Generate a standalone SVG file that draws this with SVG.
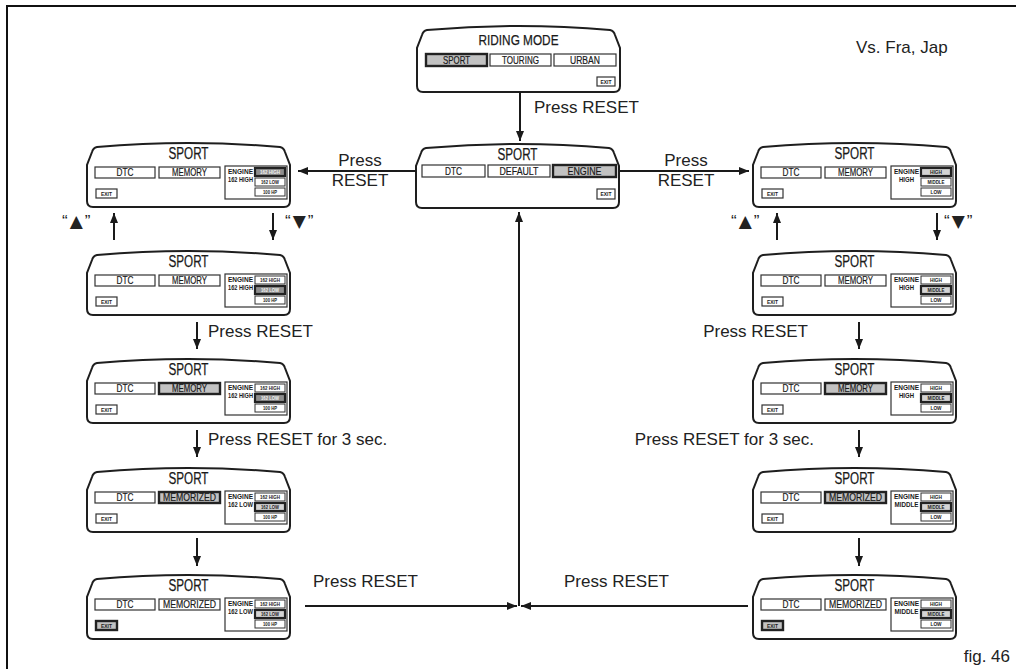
<svg xmlns="http://www.w3.org/2000/svg" xmlns:xlink="http://www.w3.org/1999/xlink" width="1016" height="669" viewBox="0 0 1016 669">
<style>
.scr{fill:#fff;stroke:#1e1e1e;stroke-width:2}
.btn{fill:#fff;stroke:#333;stroke-width:1.2}
.sel{fill:#c2c2c2;stroke:#222;stroke-width:2.4}
.eng{fill:#fff;stroke:#333;stroke-width:1.2}
.val{fill:#fff;stroke:#333;stroke-width:1}
.vd{fill:#8e8e8e;stroke:#222;stroke-width:2.2}
.vl{fill:#d4d4d4;stroke:#222;stroke-width:2.2}
.t{font-family:"Liberation Sans",Arial,"DejaVu Sans",sans-serif;fill:#1a1a1a;stroke:#1a1a1a;stroke-width:0.2}
.ti{font-size:16px;text-anchor:middle;stroke-width:0.25}
.b{font-size:10.5px;text-anchor:middle}
.e{font-size:7.5px;font-weight:bold;stroke-width:0}
.s{font-size:6px;font-weight:bold;text-anchor:middle;stroke-width:0}
.w{fill:#f4f4f4}
.lbl{font-family:"Liberation Sans",Arial,"DejaVu Sans",sans-serif;font-size:17px;fill:#222}
.tri{font-family:"DejaVu Sans",sans-serif;font-size:17px}
.c{stroke:#1a1a1a;stroke-width:2;fill:none}
.frame{stroke:#111;stroke-width:2;fill:none}
</style>
<defs>
<path id="shape" class="scr" d="M10,4 Q101.5,-4 193,4 Q197,5 198,9 L203,22 L203,58 Q203,64 197,64 L6,64 Q0,64 0,58 L0,22 L5,9 Q6,5 10,4 Z"/>
<path id="shape-tall" class="scr" d="M10,4 Q101.5,-4 193,4 Q197,5 198,9 L203,22 L203,60 Q203,66 197,66 L6,66 Q0,66 0,60 L0,22 L5,9 Q6,5 10,4 Z"/>
<marker id="ah" viewBox="0 0 10 8" refX="10" refY="4" markerWidth="10" markerHeight="8" markerUnits="userSpaceOnUse" orient="auto"><path d="M0,0 L10,4 L0,8 Z" fill="#1a1a1a"/></marker>
</defs>
<rect width="1016" height="669" fill="#fff"/>
<path class="frame" d="M7,669 L7,6 L1016,6"/>

<g id="riding-mode" transform="translate(417,26)">
<use xlink:href="#shape-tall"/>
<text class="t ti" x="101.5" y="19" textLength="80" lengthAdjust="spacingAndGlyphs" style="font-size:14px">RIDING MODE</text>
<rect class="sel" x="9" y="28" width="61" height="12"/><text class="t b" x="39.5" y="37.8" textLength="27" lengthAdjust="spacingAndGlyphs">SPORT</text>
<rect class="btn" x="73" y="28" width="61" height="12"/><text class="t b" x="103.5" y="37.8" textLength="37" lengthAdjust="spacingAndGlyphs">TOURING</text>
<rect class="btn" x="137" y="28" width="62" height="12"/><text class="t b" x="168" y="37.8" textLength="30" lengthAdjust="spacingAndGlyphs">URBAN</text>
<rect class="btn" x="180" y="51" width="18" height="9"/><text class="t s" x="189" y="57.8" textLength="11" lengthAdjust="spacingAndGlyphs">EXIT</text>
</g>

<g id="sport-main" transform="translate(416,144)">
<use xlink:href="#shape"/>
<text class="t ti" x="101.5" y="15.5" textLength="40" lengthAdjust="spacingAndGlyphs">SPORT</text>
<rect class="btn" x="6" y="21" width="63" height="12"/><text class="t b" x="37.5" y="30.8" textLength="17" lengthAdjust="spacingAndGlyphs">DTC</text>
<rect class="btn" x="72" y="21" width="62" height="12"/><text class="t b" x="103" y="30.8" textLength="39" lengthAdjust="spacingAndGlyphs">DEFAULT</text>
<rect class="sel" x="137" y="21" width="63" height="12"/><text class="t b" x="168.5" y="30.8" textLength="34" lengthAdjust="spacingAndGlyphs">ENGINE</text>
<rect class="btn" x="181" y="45" width="18" height="10"/><text class="t s" x="190" y="52.3" textLength="11" lengthAdjust="spacingAndGlyphs">EXIT</text>
</g>

<!-- LEFT COLUMN -->
<g id="left-1" transform="translate(87,143)">
<use xlink:href="#shape"/>
<text class="t ti" x="101.5" y="15.5" textLength="40" lengthAdjust="spacingAndGlyphs">SPORT</text>
<rect class="btn" x="8" y="24" width="60" height="11"/><text class="t b" x="38" y="33.3" textLength="17" lengthAdjust="spacingAndGlyphs">DTC</text>
<rect class="btn" x="72" y="24" width="61" height="11"/><text class="t b" x="102.5" y="33.3" textLength="35" lengthAdjust="spacingAndGlyphs">MEMORY</text>
<rect class="eng" x="138" y="23" width="62" height="33"/>
<text class="t e" x="141" y="31" textLength="25" lengthAdjust="spacingAndGlyphs">ENGINE</text>
<text class="t e" x="141" y="39" textLength="25" lengthAdjust="spacingAndGlyphs">162 HIGH</text>
<rect class="vd" x="168" y="25" width="30" height="8"/><text class="t s w" x="183" y="31.2" textLength="20" lengthAdjust="spacingAndGlyphs">162 HIGH</text>
<rect class="val" x="168" y="35" width="30" height="8"/><text class="t s" x="183" y="41.2" textLength="18" lengthAdjust="spacingAndGlyphs">162 LOW</text>
<rect class="val" x="168" y="45" width="30" height="8"/><text class="t s" x="183" y="51.2" textLength="14" lengthAdjust="spacingAndGlyphs">100 HP</text>
<rect class="btn" x="9" y="46" width="21" height="9"/><text class="t s" x="19.5" y="52.8" textLength="11" lengthAdjust="spacingAndGlyphs">EXIT</text>
</g>

<g id="left-2" transform="translate(87,251)">
<use xlink:href="#shape"/>
<text class="t ti" x="101.5" y="15.5" textLength="40" lengthAdjust="spacingAndGlyphs">SPORT</text>
<rect class="btn" x="8" y="24" width="60" height="11"/><text class="t b" x="38" y="33.3" textLength="17" lengthAdjust="spacingAndGlyphs">DTC</text>
<rect class="btn" x="72" y="24" width="61" height="11"/><text class="t b" x="102.5" y="33.3" textLength="35" lengthAdjust="spacingAndGlyphs">MEMORY</text>
<rect class="eng" x="138" y="23" width="62" height="33"/>
<text class="t e" x="141" y="31" textLength="25" lengthAdjust="spacingAndGlyphs">ENGINE</text>
<text class="t e" x="141" y="39" textLength="25" lengthAdjust="spacingAndGlyphs">162 HIGH</text>
<rect class="val" x="168" y="25" width="30" height="8"/><text class="t s" x="183" y="31.2" textLength="20" lengthAdjust="spacingAndGlyphs">162 HIGH</text>
<rect class="vd" x="168" y="35" width="30" height="8"/><text class="t s w" x="183" y="41.2" textLength="18" lengthAdjust="spacingAndGlyphs">162 LOW</text>
<rect class="val" x="168" y="45" width="30" height="8"/><text class="t s" x="183" y="51.2" textLength="14" lengthAdjust="spacingAndGlyphs">100 HP</text>
<rect class="btn" x="9" y="46" width="21" height="9"/><text class="t s" x="19.5" y="52.8" textLength="11" lengthAdjust="spacingAndGlyphs">EXIT</text>
</g>

<g id="left-3" transform="translate(87,359)">
<use xlink:href="#shape"/>
<text class="t ti" x="101.5" y="15.5" textLength="40" lengthAdjust="spacingAndGlyphs">SPORT</text>
<rect class="btn" x="8" y="24" width="60" height="11"/><text class="t b" x="38" y="33.3" textLength="17" lengthAdjust="spacingAndGlyphs">DTC</text>
<rect class="sel" x="72" y="24" width="61" height="11"/><text class="t b" x="102.5" y="33.3" textLength="35" lengthAdjust="spacingAndGlyphs">MEMORY</text>
<rect class="eng" x="138" y="23" width="62" height="33"/>
<text class="t e" x="141" y="31" textLength="25" lengthAdjust="spacingAndGlyphs">ENGINE</text>
<text class="t e" x="141" y="39" textLength="25" lengthAdjust="spacingAndGlyphs">162 HIGH</text>
<rect class="val" x="168" y="25" width="30" height="8"/><text class="t s" x="183" y="31.2" textLength="20" lengthAdjust="spacingAndGlyphs">162 HIGH</text>
<rect class="vd" x="168" y="35" width="30" height="8"/><text class="t s w" x="183" y="41.2" textLength="18" lengthAdjust="spacingAndGlyphs">162 LOW</text>
<rect class="val" x="168" y="45" width="30" height="8"/><text class="t s" x="183" y="51.2" textLength="14" lengthAdjust="spacingAndGlyphs">100 HP</text>
<rect class="btn" x="9" y="46" width="21" height="9"/><text class="t s" x="19.5" y="52.8" textLength="11" lengthAdjust="spacingAndGlyphs">EXIT</text>
</g>

<g id="left-4" transform="translate(87,468)">
<use xlink:href="#shape"/>
<text class="t ti" x="101.5" y="15.5" textLength="40" lengthAdjust="spacingAndGlyphs">SPORT</text>
<rect class="btn" x="8" y="24" width="60" height="11"/><text class="t b" x="38" y="33.3" textLength="17" lengthAdjust="spacingAndGlyphs">DTC</text>
<rect class="sel" x="72" y="24" width="61" height="11"/><text class="t b" x="102.5" y="33.3" textLength="53" lengthAdjust="spacingAndGlyphs">MEMORIZED</text>
<rect class="eng" x="138" y="23" width="62" height="33"/>
<text class="t e" x="141" y="31" textLength="25" lengthAdjust="spacingAndGlyphs">ENGINE</text>
<text class="t e" x="141" y="39" textLength="25" lengthAdjust="spacingAndGlyphs">162 LOW</text>
<rect class="val" x="168" y="25" width="30" height="8"/><text class="t s" x="183" y="31.2" textLength="20" lengthAdjust="spacingAndGlyphs">162 HIGH</text>
<rect class="vl" x="168" y="35" width="30" height="8"/><text class="t s" x="183" y="41.2" textLength="18" lengthAdjust="spacingAndGlyphs">162 LOW</text>
<rect class="val" x="168" y="45" width="30" height="8"/><text class="t s" x="183" y="51.2" textLength="14" lengthAdjust="spacingAndGlyphs">100 HP</text>
<rect class="btn" x="9" y="46" width="21" height="9"/><text class="t s" x="19.5" y="52.8" textLength="11" lengthAdjust="spacingAndGlyphs">EXIT</text>
</g>

<g id="left-5" transform="translate(87,575)">
<use xlink:href="#shape"/>
<text class="t ti" x="101.5" y="15.5" textLength="40" lengthAdjust="spacingAndGlyphs">SPORT</text>
<rect class="btn" x="8" y="24" width="60" height="11"/><text class="t b" x="38" y="33.3" textLength="17" lengthAdjust="spacingAndGlyphs">DTC</text>
<rect class="btn" x="72" y="24" width="61" height="11"/><text class="t b" x="102.5" y="33.3" textLength="53" lengthAdjust="spacingAndGlyphs">MEMORIZED</text>
<rect class="eng" x="138" y="23" width="62" height="33"/>
<text class="t e" x="141" y="31" textLength="25" lengthAdjust="spacingAndGlyphs">ENGINE</text>
<text class="t e" x="141" y="39" textLength="25" lengthAdjust="spacingAndGlyphs">162 LOW</text>
<rect class="val" x="168" y="25" width="30" height="8"/><text class="t s" x="183" y="31.2" textLength="20" lengthAdjust="spacingAndGlyphs">162 HIGH</text>
<rect class="vl" x="168" y="35" width="30" height="8"/><text class="t s" x="183" y="41.2" textLength="18" lengthAdjust="spacingAndGlyphs">162 LOW</text>
<rect class="val" x="168" y="45" width="30" height="8"/><text class="t s" x="183" y="51.2" textLength="14" lengthAdjust="spacingAndGlyphs">100 HP</text>
<rect class="sel" x="9" y="46" width="21" height="9"/><text class="t s" x="19.5" y="52.8" textLength="11" lengthAdjust="spacingAndGlyphs">EXIT</text>
</g>

<!-- RIGHT COLUMN -->
<g id="right-1" transform="translate(753,143)">
<use xlink:href="#shape"/>
<text class="t ti" x="101.5" y="15.5" textLength="40" lengthAdjust="spacingAndGlyphs">SPORT</text>
<rect class="btn" x="8" y="24" width="60" height="11"/><text class="t b" x="38" y="33.3" textLength="17" lengthAdjust="spacingAndGlyphs">DTC</text>
<rect class="btn" x="72" y="24" width="61" height="11"/><text class="t b" x="102.5" y="33.3" textLength="35" lengthAdjust="spacingAndGlyphs">MEMORY</text>
<rect class="eng" x="138" y="23" width="62" height="33"/>
<text class="t e" x="153.5" y="31" text-anchor="middle" textLength="25" lengthAdjust="spacingAndGlyphs">ENGINE</text>
<text class="t e" x="153.5" y="39" text-anchor="middle" textLength="15" lengthAdjust="spacingAndGlyphs">HIGH</text>
<rect class="vl" x="168" y="25" width="30" height="8"/><text class="t s" x="183" y="31.2" textLength="12" lengthAdjust="spacingAndGlyphs">HIGH</text>
<rect class="val" x="168" y="35" width="30" height="8"/><text class="t s" x="183" y="41.2" textLength="17" lengthAdjust="spacingAndGlyphs">MIDDLE</text>
<rect class="val" x="168" y="45" width="30" height="8"/><text class="t s" x="183" y="51.2" textLength="11" lengthAdjust="spacingAndGlyphs">LOW</text>
<rect class="btn" x="9" y="46" width="21" height="9"/><text class="t s" x="19.5" y="52.8" textLength="11" lengthAdjust="spacingAndGlyphs">EXIT</text>
</g>

<g id="right-2" transform="translate(753,251)">
<use xlink:href="#shape"/>
<text class="t ti" x="101.5" y="15.5" textLength="40" lengthAdjust="spacingAndGlyphs">SPORT</text>
<rect class="btn" x="8" y="24" width="60" height="11"/><text class="t b" x="38" y="33.3" textLength="17" lengthAdjust="spacingAndGlyphs">DTC</text>
<rect class="btn" x="72" y="24" width="61" height="11"/><text class="t b" x="102.5" y="33.3" textLength="35" lengthAdjust="spacingAndGlyphs">MEMORY</text>
<rect class="eng" x="138" y="23" width="62" height="33"/>
<text class="t e" x="153.5" y="31" text-anchor="middle" textLength="25" lengthAdjust="spacingAndGlyphs">ENGINE</text>
<text class="t e" x="153.5" y="39" text-anchor="middle" textLength="15" lengthAdjust="spacingAndGlyphs">HIGH</text>
<rect class="val" x="168" y="25" width="30" height="8"/><text class="t s" x="183" y="31.2" textLength="12" lengthAdjust="spacingAndGlyphs">HIGH</text>
<rect class="vl" x="168" y="35" width="30" height="8"/><text class="t s" x="183" y="41.2" textLength="17" lengthAdjust="spacingAndGlyphs">MIDDLE</text>
<rect class="val" x="168" y="45" width="30" height="8"/><text class="t s" x="183" y="51.2" textLength="11" lengthAdjust="spacingAndGlyphs">LOW</text>
<rect class="btn" x="9" y="46" width="21" height="9"/><text class="t s" x="19.5" y="52.8" textLength="11" lengthAdjust="spacingAndGlyphs">EXIT</text>
</g>

<g id="right-3" transform="translate(753,359)">
<use xlink:href="#shape"/>
<text class="t ti" x="101.5" y="15.5" textLength="40" lengthAdjust="spacingAndGlyphs">SPORT</text>
<rect class="btn" x="8" y="24" width="60" height="11"/><text class="t b" x="38" y="33.3" textLength="17" lengthAdjust="spacingAndGlyphs">DTC</text>
<rect class="sel" x="72" y="24" width="61" height="11"/><text class="t b" x="102.5" y="33.3" textLength="35" lengthAdjust="spacingAndGlyphs">MEMORY</text>
<rect class="eng" x="138" y="23" width="62" height="33"/>
<text class="t e" x="153.5" y="31" text-anchor="middle" textLength="25" lengthAdjust="spacingAndGlyphs">ENGINE</text>
<text class="t e" x="153.5" y="39" text-anchor="middle" textLength="15" lengthAdjust="spacingAndGlyphs">HIGH</text>
<rect class="val" x="168" y="25" width="30" height="8"/><text class="t s" x="183" y="31.2" textLength="12" lengthAdjust="spacingAndGlyphs">HIGH</text>
<rect class="vl" x="168" y="35" width="30" height="8"/><text class="t s" x="183" y="41.2" textLength="17" lengthAdjust="spacingAndGlyphs">MIDDLE</text>
<rect class="val" x="168" y="45" width="30" height="8"/><text class="t s" x="183" y="51.2" textLength="11" lengthAdjust="spacingAndGlyphs">LOW</text>
<rect class="btn" x="9" y="46" width="21" height="9"/><text class="t s" x="19.5" y="52.8" textLength="11" lengthAdjust="spacingAndGlyphs">EXIT</text>
</g>

<g id="right-4" transform="translate(753,468)">
<use xlink:href="#shape"/>
<text class="t ti" x="101.5" y="15.5" textLength="40" lengthAdjust="spacingAndGlyphs">SPORT</text>
<rect class="btn" x="8" y="24" width="60" height="11"/><text class="t b" x="38" y="33.3" textLength="17" lengthAdjust="spacingAndGlyphs">DTC</text>
<rect class="sel" x="72" y="24" width="61" height="11"/><text class="t b" x="102.5" y="33.3" textLength="53" lengthAdjust="spacingAndGlyphs">MEMORIZED</text>
<rect class="eng" x="138" y="23" width="62" height="33"/>
<text class="t e" x="153.5" y="31" text-anchor="middle" textLength="25" lengthAdjust="spacingAndGlyphs">ENGINE</text>
<text class="t e" x="153.5" y="39" text-anchor="middle" textLength="24" lengthAdjust="spacingAndGlyphs">MIDDLE</text>
<rect class="val" x="168" y="25" width="30" height="8"/><text class="t s" x="183" y="31.2" textLength="12" lengthAdjust="spacingAndGlyphs">HIGH</text>
<rect class="vl" x="168" y="35" width="30" height="8"/><text class="t s" x="183" y="41.2" textLength="17" lengthAdjust="spacingAndGlyphs">MIDDLE</text>
<rect class="val" x="168" y="45" width="30" height="8"/><text class="t s" x="183" y="51.2" textLength="11" lengthAdjust="spacingAndGlyphs">LOW</text>
<rect class="btn" x="9" y="46" width="21" height="9"/><text class="t s" x="19.5" y="52.8" textLength="11" lengthAdjust="spacingAndGlyphs">EXIT</text>
</g>

<g id="right-5" transform="translate(753,575)">
<use xlink:href="#shape"/>
<text class="t ti" x="101.5" y="15.5" textLength="40" lengthAdjust="spacingAndGlyphs">SPORT</text>
<rect class="btn" x="8" y="24" width="60" height="11"/><text class="t b" x="38" y="33.3" textLength="17" lengthAdjust="spacingAndGlyphs">DTC</text>
<rect class="btn" x="72" y="24" width="61" height="11"/><text class="t b" x="102.5" y="33.3" textLength="53" lengthAdjust="spacingAndGlyphs">MEMORIZED</text>
<rect class="eng" x="138" y="23" width="62" height="33"/>
<text class="t e" x="153.5" y="31" text-anchor="middle" textLength="25" lengthAdjust="spacingAndGlyphs">ENGINE</text>
<text class="t e" x="153.5" y="39" text-anchor="middle" textLength="24" lengthAdjust="spacingAndGlyphs">MIDDLE</text>
<rect class="val" x="168" y="25" width="30" height="8"/><text class="t s" x="183" y="31.2" textLength="12" lengthAdjust="spacingAndGlyphs">HIGH</text>
<rect class="vl" x="168" y="35" width="30" height="8"/><text class="t s" x="183" y="41.2" textLength="17" lengthAdjust="spacingAndGlyphs">MIDDLE</text>
<rect class="val" x="168" y="45" width="30" height="8"/><text class="t s" x="183" y="51.2" textLength="11" lengthAdjust="spacingAndGlyphs">LOW</text>
<rect class="sel" x="9" y="46" width="21" height="9"/><text class="t s" x="19.5" y="52.8" textLength="11" lengthAdjust="spacingAndGlyphs">EXIT</text>
</g>

<g id="connectors" class="c" marker-end="url(#ah)">
<path d="M520,92 L520,141"/>
<path d="M416,171 L298,171"/>
<path d="M620,171 L749,171"/>
<path d="M114,240 L114,213"/>
<path d="M273,213 L273,240"/>
<path d="M777,240 L777,213"/>
<path d="M937,213 L937,240"/>
<path d="M197,322 L197,349"/>
<path d="M197,430 L197,457"/>
<path d="M197,538 L197,566"/>
<path d="M859,322 L859,349"/>
<path d="M859,430 L859,457"/>
<path d="M859,538 L859,566"/>
<path d="M305,606 L517,606"/>
<path d="M748,606 L521,606"/>
<path d="M519,606 L519,212"/>
</g>

<g id="labels">
<text class="lbl" x="534" y="113">Press RESET</text>
<text class="lbl" x="360" y="166" text-anchor="middle">Press</text>
<text class="lbl" x="360" y="186" text-anchor="middle">RESET</text>
<text class="lbl" x="686" y="166" text-anchor="middle">Press</text>
<text class="lbl" x="686" y="186" text-anchor="middle">RESET</text>
<text class="lbl" x="62" y="227">“<tspan class="tri" dx="2">▲</tspan><tspan dx="2">”</tspan></text>
<text class="lbl" x="285" y="227">“<tspan class="tri" dx="2">▼</tspan><tspan dx="2">”</tspan></text>
<text class="lbl" x="731" y="227">“<tspan class="tri" dx="2">▲</tspan><tspan dx="2">”</tspan></text>
<text class="lbl" x="944" y="227">“<tspan class="tri" dx="2">▼</tspan><tspan dx="2">”</tspan></text>
<text class="lbl" x="208" y="337">Press RESET</text>
<text class="lbl" x="208" y="445">Press RESET for 3 sec.</text>
<text class="lbl" x="808" y="337" text-anchor="end">Press RESET</text>
<text class="lbl" x="814" y="445" text-anchor="end">Press RESET for 3 sec.</text>
<text class="lbl" x="313" y="587">Press RESET</text>
<text class="lbl" x="564" y="587">Press RESET</text>
<text class="lbl" x="856" y="53">Vs. Fra, Jap</text>
<text class="lbl" x="1010" y="662" text-anchor="end">fig. 46</text>
</g>
</svg>
